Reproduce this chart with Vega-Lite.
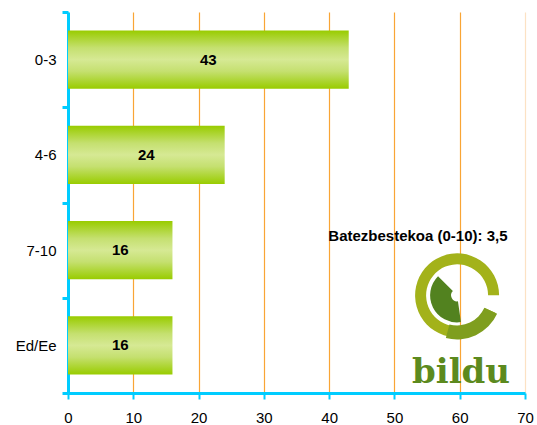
{
  "$schema": "https://vega.github.io/schema/vega-lite/v6.json",
  "width": 457,
  "height": 381,
  "autosize": "none",
  "padding": {"left": 68, "top": 12, "right": 12, "bottom": 32},
  "background": "white",
  "config": {"view": {"stroke": null}, "font": "Liberation Sans"},
  "data": {"values": [
    {"cat": "0-3", "value": 43},
    {"cat": "4-6", "value": 24},
    {"cat": "7-10", "value": 16},
    {"cat": "Ed/Ee", "value": 16}
  ]},
  "encoding": {
    "y": {"field": "cat", "type": "nominal", "sort": ["0-3", "4-6", "7-10", "Ed/Ee"],
      "scale": {"paddingInner": 0, "paddingOuter": 0},
      "axis": {"title": null, "tickBand": "extent", "domainColor": "#00CCFF", "domainWidth": 3,
        "tickColor": "#00CCFF", "tickWidth": 3, "tickSize": 6, "labelFontSize": 15, "labelColor": "#000",
        "labelPadding": 6, "grid": false, "labelFont": "Liberation Sans"}},
    "x": {"field": "value", "type": "quantitative",
      "scale": {"domain": [0, 70], "nice": false},
      "axis": {"title": null, "values": [0, 10, 20, 30, 40, 50, 60, 70], "domainColor": "#00CCFF", "domainWidth": 3,
        "tickColor": "#00CCFF", "tickWidth": 2, "tickSize": 6, "labelFontSize": 15, "labelColor": "#000",
        "labelPadding": 11, "grid": true, "gridWidth": 1.2,
        "gridColor": {"condition": {"test": "datum.value === 70", "value": "#FCE2C4"}, "value": "#F9A535"},
        "labelFont": "Liberation Sans", "labelFlush": false}}
  },
  "layer": [
    {"mark": {"type": "bar", "height": {"band": 0.61}, "color": {"gradient": "linear", "x1": 0, "y1": 0, "x2": 0, "y2": 1,
      "stops": [{"offset": 0, "color": "#99CC00"}, {"offset": 0.3, "color": "#C5E070"}, {"offset": 0.5, "color": "#D6E994"}, {"offset": 0.7, "color": "#C5E070"}, {"offset": 1, "color": "#99CC00"}]}}},
    {"transform": [{"calculate": "datum.value / 2", "as": "mid"}],
      "mark": {"type": "text", "fontWeight": "bold", "fontSize": 15, "color": "#000"},
      "encoding": {"x": {"field": "mid", "type": "quantitative"}, "text": {"field": "value"}}},
    {"data": {"values": [{"cat": "7-10", "value": 53.6, "label": "Batezbestekoa (0-10): 3,5"}]},
      "mark": {"type": "text", "fontWeight": "bold", "fontSize": 15, "color": "#000", "dy": -14},
      "encoding": {"text": {"field": "label"}}},
    {"data": {"values": [{"cat": "Ed/Ee", "value": 59.6}]},
      "mark": {"type": "arc", "radius": 42, "radius2": 31, "theta": 2.0, "theta2": 7.85, "color": "#A3B21A", "yOffset": -50},
      "encoding": {}},
    {"data": {"values": [{"cat": "Ed/Ee", "value": 59.6}]},
      "mark": {"type": "arc", "radius": 44, "radius2": 30, "theta": 2.0, "theta2": 3.4, "color": "#7F9E1E", "yOffset": -50},
      "encoding": {}},
    {"data": {"values": [{"cat": "Ed/Ee", "value": 59.6}]},
      "mark": {"type": "arc", "radius": 27, "radius2": 6, "theta": 3.0, "theta2": 5.5, "color": "#52821F", "yOffset": -50},
      "encoding": {}},
    {"data": {"values": [{"cat": "Ed/Ee", "value": 60.2, "label": "bildu"}]},
      "mark": {"type": "text", "font": "DejaVu Serif", "fontWeight": "bold", "fontSize": 34, "color": "#5C8A1E", "baseline": "alphabetic", "dy": 38},
      "encoding": {"text": {"field": "label"}}}
  ]
}
